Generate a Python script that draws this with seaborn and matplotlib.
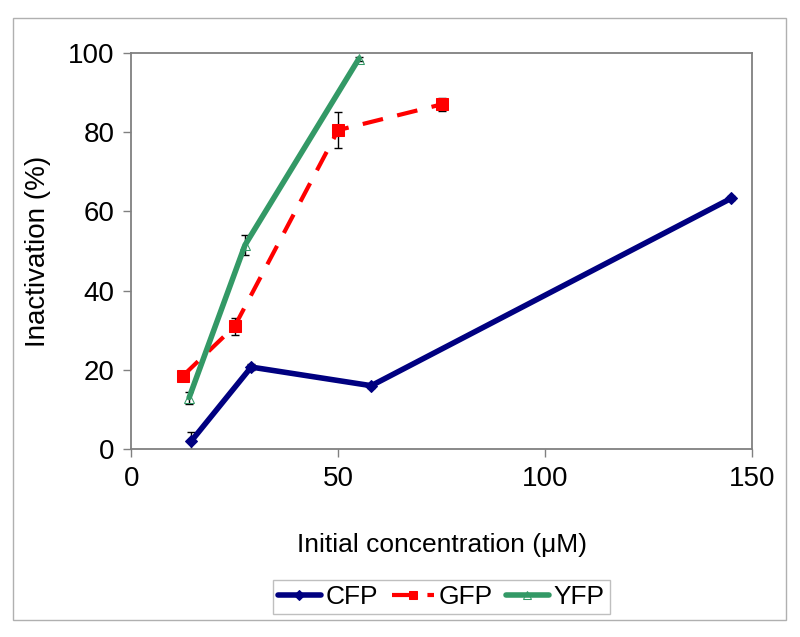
import matplotlib
matplotlib.use("Agg")
import matplotlib.pyplot as plt
import seaborn as sns
import pandas as pd
from matplotlib.patches import Rectangle

# data
cfp_x = [14.5, 29, 58, 145]
cfp_y = [2, 20.7, 16, 63.3]
cfp_err = [2.2, 0.8, 0.5, 0.5]

gfp_x = [12.5, 25, 50, 75]
gfp_y = [18.5, 31, 80.5, 87]
gfp_err = [0.6, 2.2, 4.5, 1.6]

yfp_x = [14, 27.5, 55]
yfp_y = [13, 51.5, 98.5]
yfp_err = [1.5, 2.5, 0.5]

sns.set_style("white")
plt.rcParams['font.family'] = ['Liberation Sans', 'DejaVu Sans']
plt.rcParams['text.color'] = 'black'
plt.rcParams['axes.labelcolor'] = 'black'
plt.rcParams['xtick.color'] = 'black'
plt.rcParams['ytick.color'] = 'black'

fig = plt.figure(figsize=(8, 6.37), dpi=100)
ax = fig.add_axes([0.164, 0.295, 0.776, 0.622])

series = [
    ('CFP', cfp_x, cfp_y, cfp_err, '#000080', 'D', '-', 4, 6),
    ('GFP', gfp_x, gfp_y, gfp_err, '#FF0000', 's', (0, (5, 3.5)), 3, 8),
    ('YFP', yfp_x, yfp_y, yfp_err, '#339966', '^', '-', 4, 7),
]

for name, xs, ys, errs, col, mk, ls, lw, ms in series:
    df = pd.DataFrame({'x': xs, 'y': ys})
    ax.errorbar(xs, ys, yerr=errs, fmt='none', ecolor='black', elinewidth=1,
                capsize=3, zorder=1)
    face = 'none' if name == 'YFP' else col
    sns.lineplot(data=df, x='x', y='y', ax=ax, color=col, linestyle=ls,
                 linewidth=lw, marker=mk, markersize=ms, markerfacecolor=face,
                 markeredgecolor=col, label=name, zorder=3)

ax.set_xlim(0, 150)
ax.set_ylim(0, 100)
ax.set_xticks([0, 50, 100, 150])
ax.set_yticks([0, 20, 40, 60, 80, 100])
ax.tick_params(axis='both', labelsize=20, length=6, width=1,
               direction='out', bottom=True, left=True, pad=6)
ax.tick_params(axis='both', color='#808080')
ax.set_xlabel('Initial concentration (μM)', fontsize=19, labelpad=30)
ax.set_ylabel('Inactivation (%)', fontsize=20, labelpad=12)
for s in ax.spines.values():
    s.set_color('#808080')
    s.set_linewidth(1.3)

ax.legend_.remove()
handles, labels = ax.get_legend_handles_labels()
leg = fig.legend(handles, labels, loc='center', bbox_to_anchor=(0.552, 0.063),
                 ncol=3, fontsize=19, frameon=True, fancybox=False,
                 edgecolor='#b0b0b0', handlelength=1.6, handletextpad=0.2,
                 columnspacing=0.5, borderpad=0.2, markerscale=0.8)
leg.get_frame().set_linewidth(1)

fig.patches.append(Rectangle((13 / 800, 1 - 620 / 637), 773 / 800, 602 / 637,
                             transform=fig.transFigure, fill=False,
                             edgecolor='#b0b0b0', linewidth=1))

fig.savefig('out.png', dpi=100, facecolor='white')
